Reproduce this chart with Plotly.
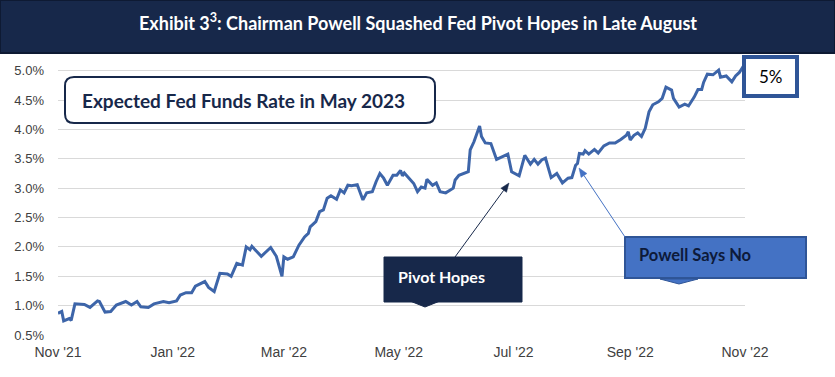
import plotly.graph_objects as go

# ---------------- data ----------------
dates = [
    "2021-11-01", "2021-11-03", "2021-11-04", "2021-11-07", "2021-11-08", "2021-11-10", "2021-11-15", "2021-11-18",
    "2021-11-22", "2021-11-23", "2021-11-26", "2021-11-29",
    "2021-12-02", "2021-12-07", "2021-12-10", "2021-12-13", "2021-12-15", "2021-12-19", "2021-12-22", "2021-12-27", "2021-12-30",
    "2022-01-03", "2022-01-05", "2022-01-08", "2022-01-11", "2022-01-13", "2022-01-18", "2022-01-20", "2022-01-23", "2022-01-26", "2022-01-30",
    "2022-02-01", "2022-02-04", "2022-02-07", "2022-02-09", "2022-02-11", "2022-02-12", "2022-02-17", "2022-02-22", "2022-02-25", "2022-02-28",
    "2022-03-01", "2022-03-03", "2022-03-06", "2022-03-09", "2022-03-12", "2022-03-14", "2022-03-15", "2022-03-18", "2022-03-20", "2022-03-22",
    "2022-03-24", "2022-03-26", "2022-03-29", "2022-03-31",
    "2022-04-02", "2022-04-04", "2022-04-06", "2022-04-09", "2022-04-10", "2022-04-12", "2022-04-14", "2022-04-17", "2022-04-19", "2022-04-21",
    "2022-04-23", "2022-04-25", "2022-04-28", "2022-04-30",
    "2022-05-02", "2022-05-03", "2022-05-04", "2022-05-07", "2022-05-09", "2022-05-11", "2022-05-13", "2022-05-15", "2022-05-16", "2022-05-19",
    "2022-05-21", "2022-05-23", "2022-05-26", "2022-05-30", "2022-05-31",
    "2022-06-02", "2022-06-05", "2022-06-07", "2022-06-08", "2022-06-10", "2022-06-13", "2022-06-14", "2022-06-16", "2022-06-19", "2022-06-22",
    "2022-06-25", "2022-06-28", "2022-06-30",
    "2022-07-04", "2022-07-07", "2022-07-10", "2022-07-12", "2022-07-14", "2022-07-16", "2022-07-18", "2022-07-21", "2022-07-24", "2022-07-27", "2022-07-30",
    "2022-08-01", "2022-08-03", "2022-08-04", "2022-08-05", "2022-08-07", "2022-08-08", "2022-08-10", "2022-08-13", "2022-08-15", "2022-08-18",
    "2022-08-21", "2022-08-24", "2022-08-27", "2022-08-30", "2022-08-31",
    "2022-09-01", "2022-09-03", "2022-09-05", "2022-09-07", "2022-09-09", "2022-09-11", "2022-09-13", "2022-09-16", "2022-09-18", "2022-09-20",
    "2022-09-23", "2022-09-24", "2022-09-27", "2022-09-30",
    "2022-10-02", "2022-10-05", "2022-10-07", "2022-10-09", "2022-10-10", "2022-10-12", "2022-10-15", "2022-10-18", "2022-10-19", "2022-10-22",
    "2022-10-25", "2022-10-27", "2022-10-29", "2022-10-31",
]

expected_rate = [
    0.87, 0.90, 0.74, 0.78, 0.75, 1.03, 1.02, 0.97, 1.08, 1.07, 0.89, 0.90,
    1.01, 1.07, 1.01, 1.07, 0.98, 0.97, 1.03, 1.07, 1.05,
    1.08, 1.18, 1.22, 1.22, 1.33, 1.41, 1.31, 1.24, 1.55, 1.54,
    1.50, 1.72, 1.69, 2.00, 1.95, 2.01, 1.84, 1.99, 1.84, 1.50,
    1.83, 1.79, 1.83, 2.03, 2.17, 2.23, 2.34, 2.43, 2.60, 2.63, 2.83, 2.87, 2.81, 2.97,
    2.92, 3.05, 3.04, 3.06, 2.97, 2.80, 2.92, 2.94, 3.11, 3.25, 3.17, 3.05, 3.22, 3.22,
    3.30, 3.21, 3.26, 3.14, 3.08, 2.94, 3.02, 3.00, 3.15, 3.05, 3.09, 2.94, 2.92, 3.00, 3.14,
    3.22, 3.26, 3.28, 3.65, 3.79, 4.06, 3.88, 3.77, 3.76, 3.49, 3.54, 3.58, 3.28,
    3.21, 3.56, 3.41, 3.49, 3.41, 3.48, 3.51, 3.18, 3.25, 3.09, 3.17,
    3.18, 3.39, 3.42, 3.59, 3.58, 3.64, 3.58, 3.66, 3.60, 3.72, 3.77, 3.77, 3.83, 3.90, 3.96,
    3.82, 3.90, 3.94, 3.88, 4.02, 4.30, 4.42, 4.47, 4.53, 4.72, 4.67, 4.53, 4.38, 4.43,
    4.40, 4.55, 4.68, 4.68, 4.80, 4.94, 4.93, 5.01, 4.89, 4.91, 4.81, 4.91, 4.97, 5.07,
]

tick_dates = ["2021-11-01", "2022-01-01", "2022-03-01", "2022-05-01", "2022-07-01", "2022-09-01", "2022-11-01"]
tick_labels = ["Nov '21", "Jan '22", "Mar '22", "May '22", "Jul '22", "Sep '22", "Nov '22"]
y_ticks = [0.5, 1.0, 1.5, 2.0, 2.5, 3.0, 3.5, 4.0, 4.5, 5.0]

title_text = "Exhibit 3<sup>3</sup>: Chairman Powell Squashed Fed Pivot Hopes in Late August"
box_text = "Expected Fed Funds Rate in May 2023"
end_label = "5%"
pivot_text = "Pivot Hopes"
powell_text = "Powell Says No"

# ---------------- layout geometry (pixels) ----------------
W, H = 835, 377
ML, MR, MT, MB = 58, 90, 65, 42
PW, PH = W - ML - MR, H - MT - MB
NAVY = "#17284A"
LINE = "#3D65A9"
BLUE = "#4472C4"


def px(x):
    return (x - ML) / PW


def py(y):
    return (H - MB - y) / PH


def poly(points):
    return "M " + " L ".join(f"{px(a):.5f},{py(b):.5f}" for a, b in points) + " Z"


def rounded(x0, y0, x1, y1, r):
    p = lambda a, b: f"{px(a):.5f},{py(b):.5f}"
    return (f"M {p(x0 + r, y0)} L {p(x1 - r, y0)} Q {p(x1, y0)} {p(x1, y0 + r)} "
            f"L {p(x1, y1 - r)} Q {p(x1, y1)} {p(x1 - r, y1)} "
            f"L {p(x0 + r, y1)} Q {p(x0, y1)} {p(x0, y1 - r)} "
            f"L {p(x0, y0 + r)} Q {p(x0, y0)} {p(x0 + r, y0)} Z")


def arrow(tail, tip, color, head_len=9, head_w=7):
    (x0, y0), (x1, y1) = tail, tip
    dx, dy = x1 - x0, y1 - y0
    n = (dx * dx + dy * dy) ** 0.5
    ux, uy = dx / n, dy / n
    bx, by = x1 - ux * head_len, y1 - uy * head_len
    nx, ny = -uy * head_w / 2, ux * head_w / 2
    return [
        dict(type="line", xref="paper", yref="paper", x0=px(x0), y0=py(y0), x1=px(bx), y1=py(by),
             line=dict(color=color, width=1), layer="above"),
        dict(type="path", xref="paper", yref="paper",
             path=poly([(x1, y1), (bx + nx, by + ny), (bx - nx, by - ny)]),
             fillcolor=color, line=dict(color=color, width=0.5), layer="above"),
    ]


fig = go.Figure()
fig.add_trace(go.Scatter(
    x=dates, y=expected_rate, mode="lines",
    line=dict(color=LINE, width=3), hoverinfo="skip", showlegend=False,
))

shapes = [
    # title band
    dict(type="rect", xref="paper", yref="paper", x0=px(0), x1=px(835), y0=py(53), y1=py(0),
         fillcolor=NAVY, line=dict(color="#0E1A33", width=2), layer="above"),
    # expected box
    dict(type="path", xref="paper", yref="paper", path=rounded(65, 77, 435, 123, 9),
         fillcolor="white", line=dict(color=NAVY, width=2), layer="above"),
    # 5% box
    dict(type="rect", xref="paper", yref="paper", x0=px(744), x1=px(797), y0=py(96), y1=py(57),
         fillcolor="white", line=dict(color="#2F5597", width=4), layer="above"),
    # pivot callout
    dict(type="rect", xref="paper", yref="paper", x0=px(384), x1=px(522), y0=py(302), y1=py(257),
         fillcolor=NAVY, line=dict(color=NAVY, width=1), layer="above"),
    dict(type="path", xref="paper", yref="paper", path=poly([(410, 301), (440, 301), (425, 307)]),
         fillcolor=NAVY, line=dict(color=NAVY, width=1), layer="above"),
    # powell callout
    dict(type="rect", xref="paper", yref="paper", x0=px(625), x1=px(806), y0=py(278), y1=py(237),
         fillcolor=BLUE, line=dict(color="#2F5597", width=2), layer="above"),
    dict(type="path", xref="paper", yref="paper", path=poly([(660, 279), (698, 279), (679, 284)]),
         fillcolor=BLUE, line=dict(color="#2F5597", width=1), layer="above"),
]
shapes += arrow((455, 257), (509, 183), NAVY)
shapes += arrow((625, 237), (579, 168), BLUE)

annotations = [
    dict(xref="paper", yref="paper", x=px(418), y=py(22), text=f"<b>{title_text}</b>", showarrow=False,
         font=dict(family="Lato", size=18, color="white"), xanchor="center", yanchor="middle"),
    dict(xref="paper", yref="paper", x=px(80), y=py(100), text=f"<b>{box_text}</b>", showarrow=False,
         font=dict(family="Lato", size=19, color=NAVY), xanchor="left", yanchor="middle"),
    dict(xref="paper", yref="paper", x=px(771), y=py(77), text=end_label, showarrow=False,
         font=dict(family="Lato", size=17, color="black"), xanchor="center", yanchor="middle"),
    dict(xref="paper", yref="paper", x=px(396), y=py(276), text=f"<b>{pivot_text}</b>", showarrow=False,
         font=dict(family="Lato", size=16, color="white"), xanchor="left", yanchor="middle"),
    dict(xref="paper", yref="paper", x=px(637), y=py(255), text=f"<b>{powell_text}</b>", showarrow=False,
         font=dict(family="Lato", size=16.5, color="#0D1A3A"), xanchor="left", yanchor="middle"),
]

y_top = 5.0 + (70.7 - MT) / ((H - MB - 70.7) / 4.5)

fig.update_layout(
    width=W, height=H,
    margin=dict(l=ML, r=MR, t=MT, b=MB, autoexpand=False),
    paper_bgcolor="white", plot_bgcolor="white",
    shapes=shapes, annotations=annotations,
    xaxis=dict(
        type="date", range=["2021-11-01", "2022-11-01"],
        tickvals=tick_dates, ticktext=tick_labels,
        showgrid=False, zeroline=False, showline=False, ticks="",
        tickfont=dict(family="Liberation Sans", size=14, color="#404040"),
        ticklabelstandoff=7,
    ),
    yaxis=dict(
        range=[0.5, y_top],
        tickvals=y_ticks, ticktext=[f"{v:.1f}%" for v in y_ticks],
        showgrid=True, gridcolor="#D9D9D9", gridwidth=1,
        zeroline=False, showline=False, ticks="",
        tickfont=dict(family="Liberation Sans", size=13, color="#404040"),
        ticklabelstandoff=13,
    ),
)

fig.write_html("out.html", config={"displayModeBar": False},
               post_script="document.body.style.margin='0px';")
